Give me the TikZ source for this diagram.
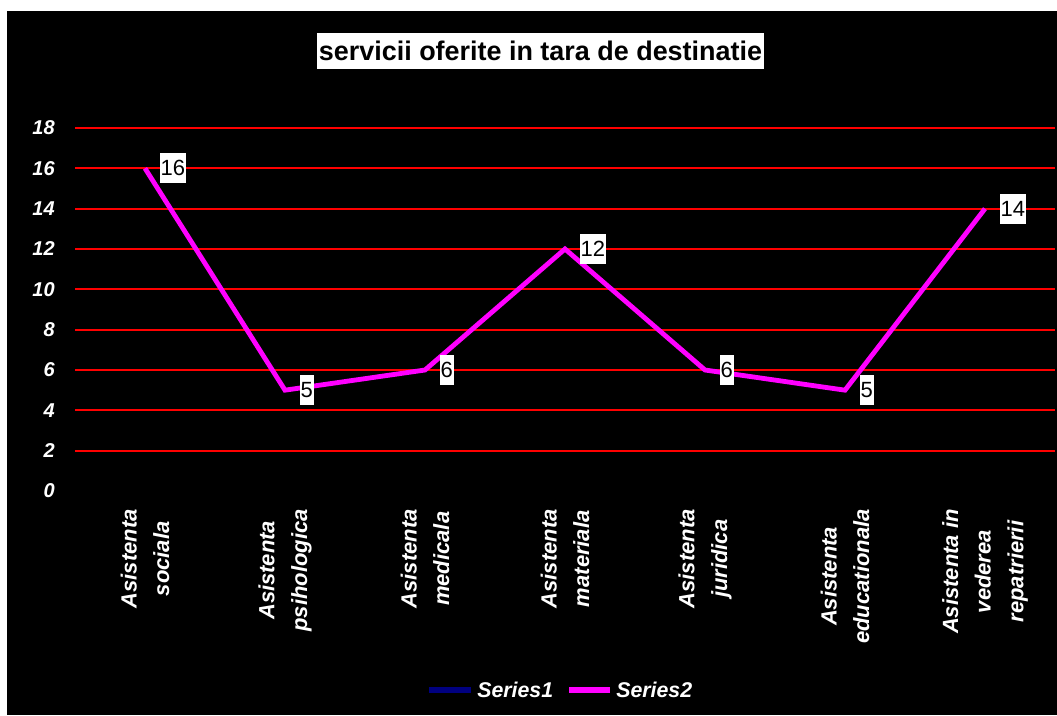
\documentclass[tikz,border=0pt]{standalone}
\usepackage{fontspec}
\setmainfont{Liberation Sans}
\usetikzlibrary{positioning}
\definecolor{seriesnavy}{RGB}{0,0,128}
\definecolor{seriespink}{RGB}{255,0,255}
\tikzset{%
  gridline/.style = {draw=red, line width=1.6pt},
  ylab/.style = {anchor=east, inner sep=0pt, text=white,
        font=\fontsize{15}{18}\selectfont\bfseries\itshape},
  catlab/.style = {rotate=90, anchor=east, inner sep=0pt, align=center,
        text=white, font=\fontsize{16.5}{24.5}\selectfont\bfseries\itshape},
  vallab/.style = {fill=white, text=black, inner xsep=0.5pt, inner ysep=5.5pt,
        font=\fontsize{16.5}{19}\selectfont},
  series/.style = {draw=seriespink, line width=3.6pt},
  legline/.style = {line width=4pt},
  legtext/.style = {text=white, inner sep=0pt,
        font=\fontsize{16}{19}\selectfont\bfseries\itshape}
}

\begin{document}
\begin{tikzpicture}[x=0.75pt, y=-0.75pt]
  \useasboundingbox (0,0) rectangle (1057,715);
  \fill[black] (7,11) rectangle (1057,715);
  \node[fill=white, text=black, minimum height=27pt, inner xsep=1.5pt,
        inner ysep=0pt, font=\fontsize{20.2}{24}\selectfont\bfseries]
        (title) at (540.5,51) {servicii oferite in tara de destinatie};
  \begin{scope}[shift={(56.25pt,-368.25pt)}, x=105pt, y=15.125pt]
    \foreach \v in {2,4,...,18}
      \draw[gridline] (0,\v) -- (7,\v);
    \foreach \v in {0,2,...,18}
      \node[ylab] at (-0.143,\v) {\v};
    \coordinate (p1) at (0.5,16);
    \coordinate (p2) at (1.5,5);
    \coordinate (p3) at (2.5,6);
    \coordinate (p4) at (3.5,12);
    \coordinate (p5) at (4.5,6);
    \coordinate (p6) at (5.5,5);
    \coordinate (p7) at (6.5,14);
    \draw[series] (p1) -- (p2) -- (p3) -- (p4) -- (p5) -- (p6) -- (p7);
    \node[vallab, right=11pt of p1] (l1) {16};
    \node[vallab, right=11pt of p2] (l2) {5};
    \node[vallab, right=11pt of p3] (l3) {6};
    \node[vallab, right=11pt of p4] (l4) {12};
    \node[vallab, right=11pt of p5] (l5) {6};
    \node[vallab, right=11pt of p6] (l6) {5};
    \node[vallab, right=11pt of p7] (l7) {14};
    \node[catlab] (c1) at (0.5,-0.89) {Asistenta\\sociala};
    \node[catlab] (c2) at (1.5,-0.89) {Asistenta\\psihologica};
    \node[catlab] (c3) at (2.5,-0.89) {Asistenta\\medicala};
    \node[catlab] (c4) at (3.5,-0.89) {Asistenta\\materiala};
    \node[catlab] (c5) at (4.5,-0.89) {Asistenta\\juridica};
    \node[catlab] (c6) at (5.5,-0.89) {Asistenta\\educationala};
    \node[catlab] (c7) at (6.5,-0.89) {Asistenta in\\vederea\\repatrierii};
  \end{scope}
  % legend
  \coordinate (s1a) at (429,690);
  \coordinate (s1b) at (471,690);
  \draw[legline, seriesnavy] (s1a) -- (s1b);
  \node[legtext, right=4.5pt of s1b] (s1) {Series1};
  \coordinate (s2a) at (569,690);
  \coordinate (s2b) at (610,690);
  \draw[legline, seriespink] (s2a) -- (s2b);
  \node[legtext, right=4.5pt of s2b] (s2) {Series2};
\end{tikzpicture}
\end{document}
